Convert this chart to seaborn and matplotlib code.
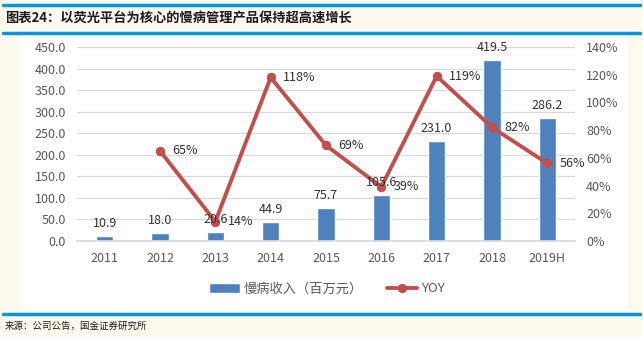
import matplotlib
matplotlib.use("Agg")
import matplotlib.pyplot as plt
import seaborn as sns
import pandas as pd
import numpy as np

years = ["2011", "2012", "2013", "2014", "2015", "2016", "2017", "2018", "2019H"]
revenue = [10.9, 18.0, 20.6, 44.9, 75.7, 105.6, 231.0, 419.5, 286.2]
yoy = [None, 65, 14, 118, 69, 39, 119, 82, 56]
bar_name = "慢病收入（百万元）"
line_name = "YOY"
title = "图表24：以荧光平台为核心的慢病管理产品保持超高速增长"
source = "来源：公司公告，国金证券研究所"

sns.set_theme(style="white")
plt.rcParams['font.family'] = ['Noto Sans CJK SC', 'DejaVu Sans']

BG = "#FEF9EF"
BLUE_LINE = "#0098D9"
BAR_C = "#4F81BD"
LINE_C = "#C0504D"
TXT = "#595959"

fig = plt.figure(figsize=(6.43, 3.37), dpi=100, facecolor=BG)

# white panel
fig.patches.append(plt.Rectangle((20/643, 1-311/337), (628-20)/643, (311-33)/337,
                                 transform=fig.transFigure, facecolor="white", edgecolor="none", zorder=-5))
# blue lines
for y, lw in [(4.5, 2.5), (32.5, 2.5), (313.5, 2.5)]:
    fig.add_artist(plt.Line2D([3/643, 640/643], [1-y/337, 1-y/337], transform=fig.transFigure,
                              color=BLUE_LINE, lw=lw, zorder=-4))

fig.text(5/643, 1-18/337, title, fontsize=9.5, fontweight="bold", style="italic",
         color="#1a1a1a", va="center", ha="left")
fig.text(5/643, 1-326/337, source, fontsize=6.8, color="#1a1a1a", va="center", ha="left")

ax = fig.add_axes([77/643, 1-241/337, (575-77)/643, (241-47)/337])
ax.set_zorder(1)
ax.set_facecolor("none")
df = pd.DataFrame({"year": years, "rev": revenue})
sns.barplot(data=df, x="year", y="rev", ax=ax, color=BAR_C, width=0.31, saturation=1,
            label=bar_name)
ax.set_ylim(0, 450)
ax.set_yticks(np.arange(0, 451, 50))
ax.set_yticklabels([f"{v:.1f}" for v in np.arange(0, 451, 50)])
ax.yaxis.grid(True, color="#D9D9D9", lw=0.8)
ax.set_axisbelow(True)
ax.set_xlabel("")
ax.set_ylabel("")
for s in ax.spines.values():
    s.set_visible(False)
ax.spines["bottom"].set_visible(True)
ax.spines["bottom"].set_color("#D9D9D9")
ax.tick_params(axis="both", length=0, labelsize=9, colors=TXT, pad=8)
ax.set_xlim(-0.5, len(years)-0.5)

ax2 = ax.twinx()
xs = [i for i, v in enumerate(yoy) if v is not None]
ys = [v for v in yoy if v is not None]
ldf = pd.DataFrame({"x": xs, "y": ys})
sns.lineplot(data=ldf, x="x", y="y", ax=ax2, color=LINE_C, lw=2.8, marker="o",
             markersize=6, markeredgecolor=LINE_C, label=line_name, legend=False, zorder=2)
ax2.set_ylim(0, 140)
ax2.set_yticks(np.arange(0, 141, 20))
ax2.set_yticklabels([f"{v}%" for v in range(0, 141, 20)])
ax2.set_ylabel("")
ax2.set_xlabel("")
for s in ax2.spines.values():
    s.set_visible(False)
ax2.tick_params(axis="y", length=0, labelsize=9, colors=TXT, pad=8)
ax2.grid(False)
ax2.set_xlim(-0.5, len(years)-0.5)

for i, v in enumerate(revenue):
    ax2.text(i, v + 14, f"{v:.1f}", transform=ax.transData, ha="center", va="bottom",
             fontsize=9, color="#333333", zorder=5)
for x, y in zip(xs, ys):
    ax2.text(x + 0.22, y, f"{y}%", ha="left", va="center", fontsize=9, color="#333333", zorder=5)

h1, l1 = ax.get_legend_handles_labels()
h2, l2 = ax2.get_legend_handles_labels()
if ax.get_legend():
    ax.get_legend().remove()
leg = fig.legend(h1 + h2, l1 + l2, loc="center", bbox_to_anchor=(327/643, 1-289/337), ncol=2,
                 frameon=False, fontsize=9.5, handlelength=2.3, handletextpad=0.3,
                 columnspacing=1.8)
for t in leg.get_texts():
    t.set_color(TXT)

fig.savefig("out.png", dpi=100, facecolor=BG)
